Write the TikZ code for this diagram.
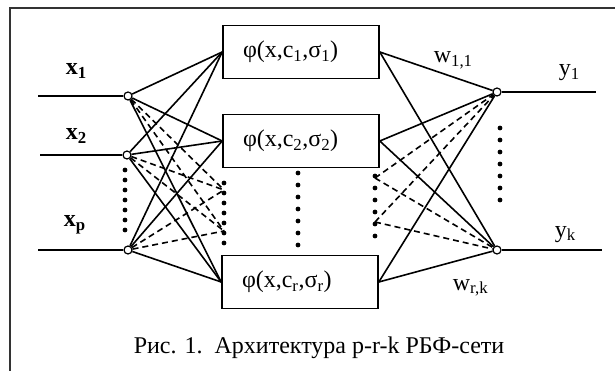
\documentclass[tikz,border=0pt]{standalone}
\usepackage{fontspec}
\setmainfont{Liberation Serif}
\usetikzlibrary{arrows}

\begin{document}
\begin{tikzpicture}[x=1pt,y=-1pt,line width=1.6pt,
    every node/.style={font=\fontsize{24}{28}\selectfont},
    neuron/.style={circle,draw,fill=white,inner sep=0pt,minimum size=8pt,line width=1.2pt},
    rbfunit/.style={draw,minimum height=53pt,inner ysep=0pt,inner xsep=20pt,text width=116pt,align=left},
    lbl/.style={anchor=base west,inner sep=0pt},
    dashline/.style={dash pattern=on 6pt off 4pt}]
      \useasboundingbox (0,0) rectangle (615,371);
      \draw[line width=1.8pt,black!80] (615,8) -- (10,8) -- (10,371);

      \node[rbfunit] (h1) at (301, 52) {φ(x,c\textsubscript{1},σ\textsubscript{1})};
      \node[rbfunit] (h2) at (301,141) {φ(x,c\textsubscript{2},σ\textsubscript{2})};
      \node[rbfunit] (hr) at (300,282) {φ(x,c\textsubscript{r},σ\textsubscript{r})};

      \node[neuron] (x1) at (128, 96) {};
      \node[neuron] (x2) at (127,155) {};
      \node[neuron] (xp) at (128,250) {};
      \node[neuron] (y1) at (497, 92) {};
      \node[neuron] (yk) at (497,250) {};

      \coordinate (i1) at (38, 96);
      \coordinate (i2) at (40,155);
      \coordinate (ip) at (38,250);
      \coordinate (o1) at (596, 92);
      \coordinate (ok) at (602,250);
      \coordinate (l1) at (224,190);
      \coordinate (l2) at (224,231);
      \coordinate (r1) at (375,178);
      \coordinate (r2) at (375,222);

      \draw (i1) -- (x1);
      \draw (i2) -- (x2);
      \draw (ip) -- (xp);
      \draw (y1) -- (o1);
      \draw (yk) -- (ok);
      \foreach \n in {x1,x2,xp} {
        \draw (\n) -- (h1.west);
        \draw (\n) -- (h2.west);
        \draw (\n) -- (hr.west);
        \draw[dashline] (\n) -- (l1);
        \draw[dashline] (\n) -- (l2);
      }
      \foreach \n in {y1,yk} {
        \draw (h1.east) -- (\n);
        \draw (h2.east) -- (\n);
        \draw (hr.east) -- (\n);
        \draw[dashline] (r1) -- (\n);
        \draw[dashline] (r2) -- (\n);
      }

      % the dotted columns
      \foreach \y in {170,180,...,230} \fill (125,\y) circle (2.4pt);
      \foreach \y in {183,193,...,243} \fill (224,\y) circle (2.4pt);
      \foreach \y in {173,185,...,245} \fill (298,\y) circle (2.4pt);
      \foreach \y in {176,188,...,236} \fill (375,\y) circle (2.4pt);
      \foreach \y in {128,140,...,200} \fill (500,\y) circle (2.4pt);

      \node[lbl] (lx1) at (65, 75) {\textbf{x\textsubscript{1}}};
      \node[lbl] (lx2) at (65,140) {\textbf{x\textsubscript{2}}};
      \node[lbl] (lxp) at (63,227) {\textbf{x\textsubscript{p}}};
      \node[lbl] (ly1) at (558, 76) {y\textsubscript{1}};
      \node[lbl] (lyk) at (554,237) {y\textsubscript{k}};
      \node[lbl] (lw1) at (433, 63) {w\textsubscript{1,1}};
      \node[lbl] (lwr) at (452,290) {w\textsubscript{r,k}};
      \node[lbl] (cap) at (133,353) {Рис. 1.\ \ Архитектура p-r-k РБФ-сети};
%      \draw[dashline] (x1) -- (h2.west);
    \end{tikzpicture}
\end{document}
